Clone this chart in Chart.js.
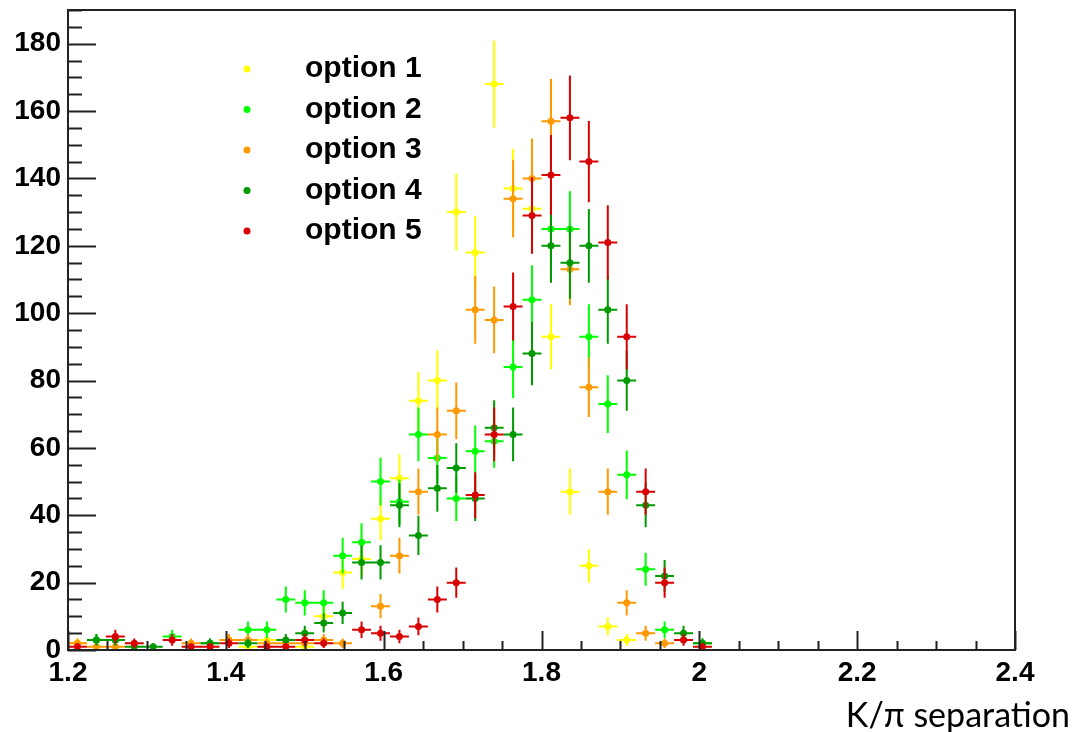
<!DOCTYPE html>
<html>
<head>
<meta charset="utf-8">
<script src="https://cdn.jsdelivr.net/npm/chart.js@4.4.1/dist/chart.umd.min.js"></script>
<style>
  html, body { margin: 0; padding: 0; background: #fff; }
  canvas { display: block; }
</style>
</head>
<body>
<canvas id="c" width="1074" height="732"></canvas>
<script>
// Histogram bin centres (50 bins from 1.2 to 2.4, only the filled ones listed)
var binCentres = [1.212, 1.236, 1.260, 1.284, 1.308, 1.332, 1.356, 1.380, 1.404, 1.428,
                  1.452, 1.476, 1.500, 1.524, 1.548, 1.572, 1.596, 1.620, 1.644, 1.668,
                  1.692, 1.716, 1.740, 1.764, 1.788, 1.812, 1.836, 1.860, 1.884, 1.908,
                  1.932, 1.956, 1.980, 2.004];
var binHalfWidth = 0.012;

// Entries per bin (null = empty bin)
var option1 = [2, null, null, null, null, null, null, null, 3, 1,
               3, null, 1, 10, 23, 27, 39, 51, 74, 80,
               130, 118, 168, 137, 131, 93, 47, 25, 7, 3,
               null, null, null, null];
var option2 = [null, 3, 3, null, null, 4, null, 2, null, 6,
               6, 15, 14, 14, 28, 32, 50, 44, 64, 57,
               45, 59, 62, 84, 104, 125, 125, 93, 73, 52,
               24, 6, null, 2];
var option3 = [2, 1, 1, null, null, null, 2, null, 3, 3,
               2, 2, 2, 3, 2, null, 13, 28, 47, 64,
               71, 101, 98, 134, 140, 157, 113, 78, 47, 14,
               5, 2, null, null];
var option4 = [null, 3, 3, 1, 1, null, null, 2, null, 2,
               null, 3, 5, 8, 11, 26, 26, 43, 34, 48,
               54, 45, 66, 64, 88, 120, 115, 120, 101, 80,
               43, 22, 5, 2];
var option5 = [1, null, 4, 2, null, 3, 1, 1, 2, null,
               1, 1, 3, 2, null, 6, 5, 4, 7, 15,
               20, 46, 64, 102, 129, 141, 158, 145, 121, 93,
               47, 20, 3, 1];

var seriesNames = ["option 1", "option 2", "option 3", "option 4", "option 5"];
var seriesColors = ["#ffff00", "#00ff00", "#ff9900", "#009a00", "#d80000"];
var xTicks = [1.2, 1.4, 1.6, 1.8, 2.0, 2.2, 2.4];
var yTicks = [0, 20, 40, 60, 80, 100, 120, 140, 160, 180];

var allSeries = [option1, option2, option3, option4, option5];

// Build scatter datasets from the arrays
var datasets = [];
for (var s = 0; s < allSeries.length; s++) {
    var pts = [];
    for (var i = 0; i < binCentres.length; i++) {
        if (allSeries[s][i] != null) {
            pts.push({x: binCentres[i], y: allSeries[s][i]});
        }
    }
    datasets.push({
        label: seriesNames[s],
        data: pts,
        backgroundColor: seriesColors[s],
        borderColor: seriesColors[s],
        pointRadius: 3.5,
        pointHoverRadius: 3.5,
        pointBorderWidth: 0,
        order: 5 - s
    });
}

// Poisson error bars, drawn just before each dataset's markers
var errorBars = {
    id: "errorBars",
    beforeDatasetDraw: function (chart, args) {
        var ctx = chart.ctx;
        var xs = chart.scales.x, ys = chart.scales.y;
        var ds = chart.data.datasets[args.index];
        ctx.save();
        ctx.strokeStyle = ds.borderColor;
        ctx.lineWidth = 2;
        ctx.beginPath();
        ds.data.forEach(function (p) {
            var e = Math.sqrt(p.y);
            var px = xs.getPixelForValue(p.x), py = ys.getPixelForValue(p.y);
            ctx.moveTo(xs.getPixelForValue(p.x - binHalfWidth), py);
            ctx.lineTo(xs.getPixelForValue(p.x + binHalfWidth), py);
            ctx.moveTo(px, ys.getPixelForValue(Math.max(p.y - e, 0)));
            ctx.lineTo(px, ys.getPixelForValue(p.y + e));
        });
        ctx.stroke();
        ctx.restore();
    }
};

// ROOT style frame, inner ticks, legend and axis title
var rootStyle = {
    id: "rootStyle",
    afterDraw: function (chart) {
        var ctx = chart.ctx;
        var a = chart.chartArea;
        var xs = chart.scales.x, ys = chart.scales.y;
        ctx.save();
        ctx.strokeStyle = "#222";
        ctx.lineWidth = 2;
        ctx.strokeRect(a.left, a.top, a.right - a.left, a.bottom - a.top);

        // ticks pointing inwards
        ctx.beginPath();
        for (var v = 0; v <= 190; v += 5) {
            var py = Math.round(ys.getPixelForValue(v)) + 0.5;
            var len = (v % 20 === 0) ? 28 : 14;
            ctx.moveTo(a.left, py);
            ctx.lineTo(a.left + len, py);
        }
        for (var t = 0; t <= 24; t++) {
            var xv = 1.2 + t * 0.05;
            var px = Math.round(xs.getPixelForValue(xv)) + 0.5;
            var l = (t % 4 === 0) ? 19 : 9;
            ctx.moveTo(px, a.bottom);
            ctx.lineTo(px, a.bottom - l);
        }
        ctx.stroke();

        // legend
        ctx.font = "bold 30px 'Liberation Sans', Arial, sans-serif";
        ctx.textBaseline = "middle";
        for (var s = 0; s < seriesNames.length; s++) {
            var ry = 69 + s * 40.5;
            ctx.fillStyle = seriesColors[s];
            ctx.beginPath();
            ctx.arc(247, ry, 3.5, 0, Math.PI * 2);
            ctx.fill();
            ctx.fillStyle = "#000";
            ctx.fillText(seriesNames[s], 305, ry);
        }

        // axis title
        ctx.font = "34px Lato, 'Open Sans', sans-serif";
        ctx.textAlign = "right";
        ctx.textBaseline = "alphabetic";
        ctx.fillText("K/\u03c0 separation", 1070, 727);
        ctx.restore();
    }
};

var tickFont = {family: "'Liberation Sans', Arial, sans-serif", size: 28, weight: "bold"};

var chart = new Chart(document.getElementById("c"), {
    type: "scatter",
    data: {datasets: datasets},
    options: {
        responsive: false,
        animation: false,
        devicePixelRatio: 1,
        layout: {padding: {top: 10, right: 59, left: 0, bottom: 0}},
        plugins: {
            legend: {display: false},
            tooltip: {enabled: false}
        },
        scales: {
            x: {
                type: "linear",
                min: 1.2,
                max: 2.4,
                afterBuildTicks: function (scale) {
                    scale.ticks = xTicks.map(function (v) { return {value: v}; });
                },
                afterFit: function (scale) {
                    scale.height = 82;
                    scale.paddingLeft = 0;
                    scale.paddingRight = 0;
                },
                grid: {display: false, drawTicks: false},
                border: {display: true, color: "#222", width: 2},
                ticks: {
                    font: tickFont,
                    color: "#000",
                    padding: 6,
                    maxRotation: 0,
                    autoSkip: false,
                    callback: function (v) { return String(+v.toFixed(1)); }
                }
            },
            y: {
                type: "linear",
                min: 0,
                max: 190,
                afterBuildTicks: function (scale) {
                    scale.ticks = yTicks.map(function (v) { return {value: v}; });
                },
                afterFit: function (scale) {
                    scale.width = 68;
                    scale.paddingTop = 0;
                    scale.paddingBottom = 0;
                },
                grid: {display: false, drawTicks: false},
                border: {display: true, color: "#222", width: 2},
                ticks: {
                    font: tickFont,
                    color: "#000",
                    padding: 7,
                    autoSkip: false
                }
            }
        }
    },
    plugins: [errorBars, rootStyle]
});
</script>
</body>
</html>
